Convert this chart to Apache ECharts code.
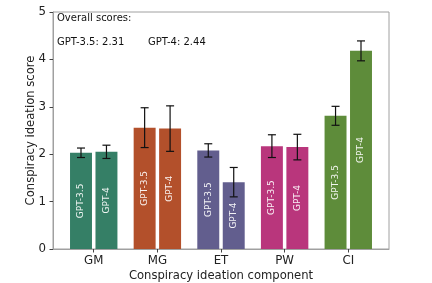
<!DOCTYPE html>
<html><head><meta charset="utf-8">
<script src="https://cdn.jsdelivr.net/npm/echarts@6/dist/echarts.min.js"></script>
<style>html,body{margin:0;padding:0;background:#fff}#c{width:432px;height:283px}</style>
</head><body><div id="c"></div>
<script>
const categories = ['GM', 'MG', 'ET', 'PW', 'CI'];
const colors = ['#317c63', '#b14c27', '#5f5b8c', '#b83279', '#5b8a36'];
const models = ['GPT-3.5', 'GPT-4'];
const gpt35 = [2.03, 2.56, 2.08, 2.17, 2.81];
const gpt35Err = [0.10, 0.42, 0.14, 0.24, 0.20];
const gpt4 = [2.05, 2.54, 1.41, 2.15, 4.18];
const gpt4Err = [0.14, 0.48, 0.31, 0.27, 0.21];
const overall = {'GPT-3.5': '2.31', 'GPT-4': '2.44'};
const yTicks = [0, 1, 2, 3, 4, 5];

const FONT = 'DejaVu Sans';
const chart = echarts.init(document.getElementById('c'));

function makeSeries(name, vals, errs, off) {
  return {
    type: 'custom', name: name,
    data: vals.map((v, i) => [i, v, errs[i]]),
    encode: {x: 0, y: 1},
    renderItem: function (params, api) {
      const i = api.value(0), v = api.value(1), e = api.value(2);
      const top = api.coord([i + off, v]);
      const base = api.coord([i + off, 0]);
      const w = api.size([0.345, 0])[0];
      const hi = api.coord([i + off, v + e]);
      const lo = api.coord([i + off, v - e]);
      const mid = api.coord([i + off, v / 2]);
      const cap = 4;
      return {
        type: 'group', children: [
          {type: 'rect', shape: {x: top[0] - w / 2, y: top[1], width: w, height: base[1] - top[1]},
            style: {fill: colors[i], opacity: 0.98}},
          {type: 'text', x: mid[0], y: mid[1], rotation: Math.PI / 2,
            style: {text: name, fill: '#fff', font: '9px ' + FONT, align: 'center', verticalAlign: 'middle', opacity: 0.92}},
          {type: 'line', shape: {x1: hi[0], y1: hi[1], x2: lo[0], y2: lo[1]}, style: {stroke: '#111', lineWidth: 1.2}},
          {type: 'line', shape: {x1: hi[0] - cap, y1: hi[1], x2: hi[0] + cap, y2: hi[1]}, style: {stroke: '#111', lineWidth: 1.2}},
          {type: 'line', shape: {x1: lo[0] - cap, y1: lo[1], x2: lo[0] + cap, y2: lo[1]}, style: {stroke: '#111', lineWidth: 1.2}}
        ]
      };
    }
  };
}

chart.setOption({
  animation: false,
  grid: {left: 53, right: 43, top: 12, bottom: 34, outerBoundsMode: 'none', containLabel: false,
    show: true, borderColor: '#a0a0a0', borderWidth: 1},
  xAxis: {
    type: 'value', min: -0.64, max: 4.64,
    splitLine: {show: false},
    axisLine: {show: true, onZero: false, lineStyle: {color: '#a0a0a0', width: 1}},
    axisTick: {show: true, customValues: [0, 1, 2, 3, 4], length: 3.5, lineStyle: {color: '#444'}},
    axisLabel: {customValues: [0, 1, 2, 3, 4], formatter: v => categories[Math.round(v)] || '',
      fontFamily: FONT, fontSize: 11.8, color: '#222', margin: 5.5},
    name: 'Conspiracy ideation component', nameLocation: 'middle', nameGap: 21, nameMoveOverlap: false,
    nameTextStyle: {fontFamily: FONT, fontSize: 11.6, color: '#222'}
  },
  yAxis: {
    type: 'value', min: 0, max: 5, interval: 1,
    splitLine: {show: false},
    axisLine: {show: true, onZero: false, lineStyle: {color: '#a0a0a0', width: 1}},
    axisTick: {show: true, length: 3.5, lineStyle: {color: '#444'}},
    axisLabel: {fontFamily: FONT, fontSize: 11.8, color: '#222', margin: 7,
      formatter: v => yTicks.indexOf(v) >= 0 ? String(v) : ''},
    name: 'Conspiracy ideation score', nameLocation: 'middle', nameGap: 16, nameMoveOverlap: false,
    nameTextStyle: {fontFamily: FONT, fontSize: 11.6, color: '#222'}
  },
  graphic: [
    {type: 'text', left: 57, top: 13, style: {text: 'Overall scores:', font: '10px ' + FONT, fill: '#111'}},
    {type: 'text', left: 57, top: 37, style: {text: models[0] + ': ' + overall['GPT-3.5'], font: '10px ' + FONT, fill: '#111'}},
    {type: 'text', left: 148, top: 37, style: {text: models[1] + ': ' + overall['GPT-4'], font: '10px ' + FONT, fill: '#111'}}
  ],
  series: [
    makeSeries(models[0], gpt35, gpt35Err, -0.2),
    makeSeries(models[1], gpt4, gpt4Err, 0.2)
  ]
});
</script></body></html>
